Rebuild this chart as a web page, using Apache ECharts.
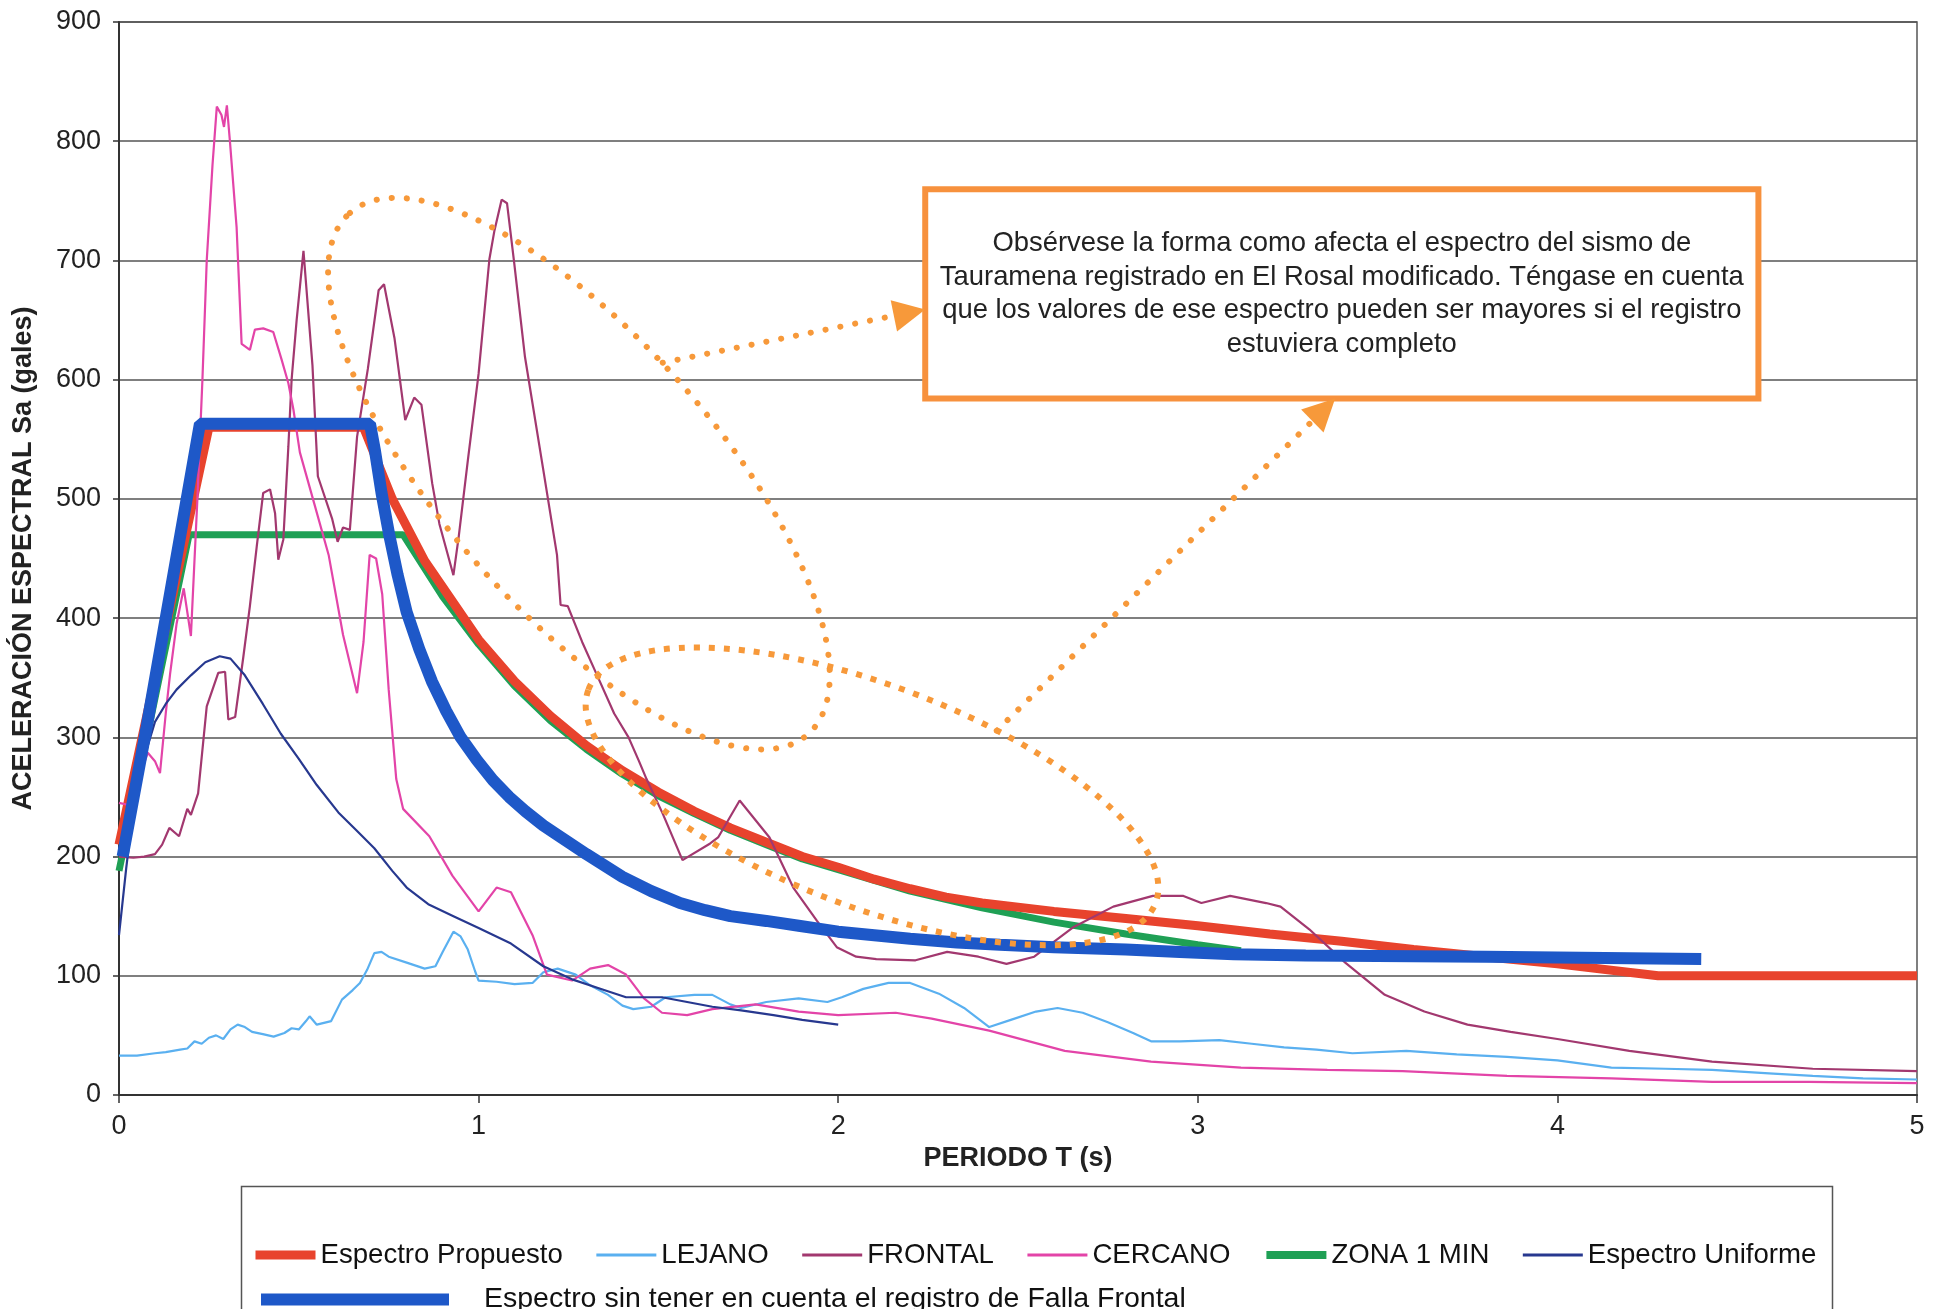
<!DOCTYPE html>
<html lang="es">
<head>
<meta charset="utf-8">
<title>Espectros de aceleración</title>
<script src="https://cdn.jsdelivr.net/npm/echarts@6.0.0/dist/echarts.min.js"></script>
<style>
  html, body { margin: 0; padding: 0; background: #fff; }
  #chart { width: 1942px; height: 1309px; }
</style>
</head>
<body>
<div id="chart"></div>
<script>
// Datos: [periodo T (s), Sa (gales)]
const espectroPropuesto = [[0,210],[0.25,560],[0.68,560],[0.76,500],[0.85,448],[1.0,382],[1.1,347],[1.2,318],[1.3,293],[1.4,272],[1.5,254],[1.6,238],[1.7,224],[1.8,212],[1.9,200],[2.0,191],[2.1,181],[2.2,173],[2.3,166],[2.4,161],[2.6,154],[2.8,148],[3.0,142],[3.2,135],[3.4,129],[3.6,122],[3.8,116],[4.0,110],[4.28,100],[5.0,100]];

const zona1Min = [[0,188],[0.195,470],[0.79,470],[0.9,418],[1.0,378],[1.1,343],[1.2,314],[1.3,290],[1.4,269],[1.5,251],[1.6,236],[1.7,222],[1.8,210],[1.9,198],[2.0,189],[2.2,171],[2.4,157],[2.6,145],[2.8,135],[3.0,126],[3.12,121]];

const sinFallaFrontal = [[0.01,200],[0.077,309],[0.225,563],[0.698,563],[0.712,540],[0.73,505],[0.752,469],[0.775,436],[0.80,405],[0.835,374],[0.87,347],[0.91,322],[0.95,300],[0.995,281],[1.04,264],[1.085,250],[1.13,238],[1.18,226],[1.23,216],[1.3,202],[1.4,183],[1.48,171],[1.56,161],[1.63,155],[1.7,150],[1.8,146],[1.89,142],[2.0,137],[2.1,134],[2.2,131],[2.33,128],[2.45,126],[2.6,124],[2.8,122],[2.95,120],[3.1,118],[3.3,117],[3.8,116],[4.4,114]];

const espectroUniforme = [[0,134],[0.02,190],[0.04,240],[0.06,272],[0.08,293],[0.1,313],[0.13,328],[0.16,340],[0.2,352],[0.24,363],[0.28,368],[0.31,366],[0.35,352],[0.4,328],[0.45,303],[0.5,282],[0.55,260],[0.61,237],[0.66,222],[0.71,207],[0.76,188],[0.8,174],[0.86,160],[0.93,150],[1.0,140],[1.09,127],[1.18,108],[1.26,97],[1.33,90],[1.41,82],[1.51,82],[1.58,78],[1.65,74],[1.73,71],[1.82,67],[1.9,63],[2.0,59]];

const lejano = [[0,33],[0.05,33],[0.1,35],[0.13,36],[0.17,38],[0.19,39],[0.21,45],[0.23,43],[0.25,48],[0.27,50],[0.29,47],[0.31,55],[0.33,59],[0.35,57],[0.37,53],[0.4,51],[0.43,49],[0.46,52],[0.48,56],[0.5,55],[0.52,62],[0.53,66],[0.55,59],[0.59,62],[0.62,80],[0.65,88],[0.67,94],[0.69,105],[0.71,119],[0.73,120],[0.75,116],[0.8,111],[0.85,106],[0.88,108],[0.9,120],[0.93,137],[0.95,133],[0.97,122],[0.99,104],[1.0,96],[1.05,95],[1.1,93],[1.15,94],[1.18,103],[1.22,106],[1.27,101],[1.31,92],[1.36,84],[1.4,75],[1.43,72],[1.48,74],[1.52,82],[1.6,84],[1.65,84],[1.7,76],[1.73,73],[1.8,78],[1.89,81],[1.97,78],[2.01,82],[2.07,89],[2.14,94],[2.2,94],[2.28,85],[2.35,73],[2.42,57],[2.48,63],[2.55,70],[2.61,73],[2.68,69],[2.75,61],[2.82,52],[2.87,45],[2.95,45],[3.06,46],[3.15,43],[3.24,40],[3.33,38],[3.43,35],[3.58,37],[3.72,34],[3.86,32],[4.0,29],[4.15,23],[4.3,22],[4.43,21],[4.6,18],[4.71,16],[4.85,14],[5.0,13]];

const frontal = [[0,200],[0.04,199],[0.07,200],[0.1,202],[0.12,210],[0.14,224],[0.167,217],[0.19,240],[0.2,235],[0.22,253],[0.244,326],[0.276,354],[0.295,355],[0.304,315],[0.323,317],[0.346,368],[0.364,410],[0.383,460],[0.401,505],[0.42,508],[0.434,488],[0.443,449],[0.457,466],[0.471,544],[0.48,600],[0.494,650],[0.513,708],[0.538,612],[0.553,519],[0.593,483],[0.608,464],[0.623,476],[0.642,474],[0.662,552],[0.692,609],[0.722,675],[0.737,680],[0.766,635],[0.796,566],[0.821,585],[0.841,579],[0.871,513],[0.891,479],[0.93,436],[0.945,469],[0.97,532],[1.0,605],[1.03,701],[1.044,725],[1.064,751],[1.079,748],[1.099,698],[1.129,619],[1.179,526],[1.218,453],[1.228,411],[1.248,410],[1.288,380],[1.328,353],[1.377,320],[1.417,300],[1.446,280],[1.467,265],[1.512,236],[1.567,197],[1.644,211],[1.666,216],[1.726,247],[1.809,216],[1.875,174],[1.941,146],[1.996,124],[2.05,116],[2.106,114],[2.215,113],[2.303,120],[2.39,116],[2.468,110],[2.545,116],[2.655,141],[2.765,158],[2.875,167],[2.96,167],[3.01,161],[3.09,167],[3.19,161],[3.23,158],[3.31,139],[3.41,111],[3.52,84],[3.63,70],[3.75,59],[3.87,53],[4.0,47],[4.2,37],[4.43,28],[4.71,22],[5.0,20]];

const cercano = [[0,245],[0.03,243],[0.06,270],[0.08,287],[0.1,280],[0.114,270],[0.13,320],[0.142,353],[0.16,395],[0.18,425],[0.2,385],[0.218,500],[0.232,600],[0.244,700],[0.26,780],[0.272,829],[0.285,822],[0.292,812],[0.3,830],[0.309,798],[0.327,728],[0.341,630],[0.364,625],[0.378,642],[0.401,643],[0.429,640],[0.452,617],[0.471,597],[0.485,575],[0.503,539],[0.543,496],[0.583,453],[0.623,386],[0.662,337],[0.68,380],[0.697,453],[0.715,450],[0.732,420],[0.75,340],[0.771,265],[0.79,240],[0.863,217],[0.927,184],[1.0,154],[1.05,174],[1.09,170],[1.15,134],[1.19,101],[1.26,96],[1.31,106],[1.36,109],[1.41,101],[1.46,81],[1.51,69],[1.58,67],[1.65,72],[1.77,76],[1.89,70],[2.0,67],[2.16,69],[2.26,64],[2.42,54],[2.63,37],[2.87,28],[3.12,23],[3.36,21],[3.57,20],[3.86,16],[4.15,14],[4.43,11],[4.7,11],[5.0,10]];

// Marcas de los ejes
const xTicks = [0, 1, 2, 3, 4, 5];
const yTicks = [0, 100, 200, 300, 400, 500, 600, 700, 800, 900];

// Nota de la figura
const notaLineas = [
  'Obsérvese la forma como afecta el espectro del sismo de',
  'Tauramena registrado en El Rosal modificado. Téngase en cuenta',
  'que los valores de ese espectro pueden ser mayores si el registro',
  'estuviera completo'
];

const fuente = '"Liberation Sans", Arial, sans-serif';
const naranja = '#F7993A';

const linea = (name, data, color, width) => ({
  name, type: 'line', data, color,
  symbol: 'none', showSymbol: false, silent: true,
  lineStyle: { color, width }
});

const option = {
  animation: false,
  backgroundColor: '#fff',
  textStyle: { fontFamily: fuente },
  grid: {
    left: 119, right: 25, top: 22, bottom: 214,
    show: true, borderColor: '#555', borderWidth: 1.5
  },
  xAxis: {
    type: 'value',
    min: xTicks[0], max: xTicks[xTicks.length - 1], interval: xTicks[1] - xTicks[0],
    axisLine: { show: true, lineStyle: { color: '#333', width: 2 } },
    axisTick: { show: true, length: 8, lineStyle: { color: '#333', width: 1.5 } },
    splitLine: { show: false },
    axisLabel: { fontSize: 27, color: '#222', margin: 18, fontFamily: fuente },
    name: 'PERIODO T (s)', nameLocation: 'middle', nameGap: 46,
    nameTextStyle: { fontSize: 27, fontWeight: 'bold', color: '#222', fontFamily: fuente }
  },
  yAxis: {
    type: 'value',
    min: yTicks[0], max: yTicks[yTicks.length - 1], interval: yTicks[1] - yTicks[0],
    axisLine: { show: true, lineStyle: { color: '#333', width: 2 } },
    axisTick: { show: true, length: 6, lineStyle: { color: '#333', width: 1.5 } },
    splitLine: { show: true, lineStyle: { color: '#555', width: 1.5 } },
    axisLabel: { fontSize: 27, color: '#222', margin: 18, fontFamily: fuente },
    name: 'ACELERACIÓN ESPECTRAL Sa (gales)', nameLocation: 'middle', nameGap: 82,
    nameTextStyle: { fontSize: 27, fontWeight: 'bold', color: '#222', fontFamily: fuente }
  },
  legend: [
    {
      data: [
        { name: 'Espectro Propuesto', lineStyle: { width: 9 } },
        { name: 'LEJANO', lineStyle: { width: 3 } },
        { name: 'FRONTAL', lineStyle: { width: 3 } },
        { name: 'CERCANO', lineStyle: { width: 3 } },
        { name: 'ZONA 1 MIN', lineStyle: { width: 8 } },
        { name: 'Espectro Uniforme', lineStyle: { width: 3 } }
      ],
      left: 246, top: 1236, itemWidth: 60, itemHeight: 14, itemGap: 32,
      selectedMode: false,
      itemStyle: { opacity: 0 },
      textStyle: { fontSize: 27.6, color: '#111', fontFamily: fuente }
    },
    {
      data: [{ name: 'Espectro sin tener en cuenta el registro de Falla Frontal', lineStyle: { width: 12 } }],
      left: 250, top: 1280, itemWidth: 188, itemHeight: 14,
      selectedMode: false,
      itemStyle: { opacity: 0 },
      textStyle: { fontSize: 28.5, color: '#111', fontFamily: fuente, padding: [0, 0, 0, 30] }
    }
  ],
  series: [
    linea('ZONA 1 MIN', zona1Min, '#1FA055', 7),
    linea('Espectro Propuesto', espectroPropuesto, '#E8432D', 9),
    linea('LEJANO', lejano, '#5AB0F0', 2.2),
    linea('FRONTAL', frontal, '#A2386F', 2.2),
    linea('CERCANO', cercano, '#E344A8', 2.2),
    linea('Espectro Uniforme', espectroUniforme, '#27388F', 2.2),
    linea('Espectro sin tener en cuenta el registro de Falla Frontal', sinFallaFrontal, '#1E58C8', 12)
  ]
};

const chart = echarts.init(document.getElementById('chart'));
chart.setOption(option);

// Anotaciones (elipses, flechas y nota) ubicadas en coordenadas de datos
const px = p => chart.convertToPixel({ gridIndex: 0 }, p);
const puntos = { stroke: naranja, lineWidth: 6, lineDash: [0.1, 15], lineCap: 'round', fill: 'none' };
const cuadros = { stroke: naranja, lineWidth: 6, lineDash: [6, 9], lineCap: 'butt', fill: 'none' };

function elipse(centro, rx, ry, angulo, estilo) {
  const c = px(centro);
  return {
    type: 'ellipse', x: c[0], y: c[1], rotation: -angulo * Math.PI / 180,
    shape: { cx: 0, cy: 0, rx, ry }, style: estilo, z: 100, silent: true
  };
}

function flecha(desde, hasta) {
  const a = px(desde), b = px(hasta);
  const ang = Math.atan2(b[1] - a[1], b[0] - a[0]);
  const largo = 32, ancho = 16;
  const base = [b[0] - largo * Math.cos(ang), b[1] - largo * Math.sin(ang)];
  const p1 = [base[0] + ancho * Math.sin(ang), base[1] - ancho * Math.cos(ang)];
  const p2 = [base[0] - ancho * Math.sin(ang), base[1] + ancho * Math.cos(ang)];
  return [
    { type: 'line', shape: { x1: a[0], y1: a[1], x2: base[0], y2: base[1] }, style: puntos, z: 100, silent: true },
    { type: 'polygon', shape: { points: [b, p1, p2] }, style: { fill: naranja }, z: 100, silent: true }
  ];
}

const caja0 = px([2.242, 759.7]);
const caja1 = px([4.559, 584.1]);

chart.setOption({
  graphic: [
    elipse([1.279, 521.2], 347, 136, 48.7, puntos),
    elipse([2.094, 250.5], 303, 111, 20.6, cuadros),
    ...flecha([1.512, 614.2], [2.242, 658.9]),
    ...flecha([2.441, 305.6], [3.382, 584.1]),
    {
      type: 'rect', z: 90, silent: true,
      shape: { x: caja0[0], y: caja0[1], width: caja1[0] - caja0[0], height: caja1[1] - caja0[1] },
      style: { fill: '#fff', stroke: '#F7913D', lineWidth: 6 }
    },
    {
      type: 'text', z: 95, silent: true,
      x: (caja0[0] + caja1[0]) / 2, y: (caja0[1] + caja1[1]) / 2,
      style: {
        text: notaLineas.join('\n'), align: 'center', verticalAlign: 'middle',
        font: '27.4px ' + fuente, fill: '#222', lineHeight: 33.5
      }
    },
    // marco de la leyenda
    {
      type: 'rect', z: 1, silent: true,
      shape: { x: 241.5, y: 1186.5, width: 1591, height: 200 },
      style: { fill: 'none', stroke: '#555', lineWidth: 1.5 }
    }
  ]
});
</script>
</body>
</html>
